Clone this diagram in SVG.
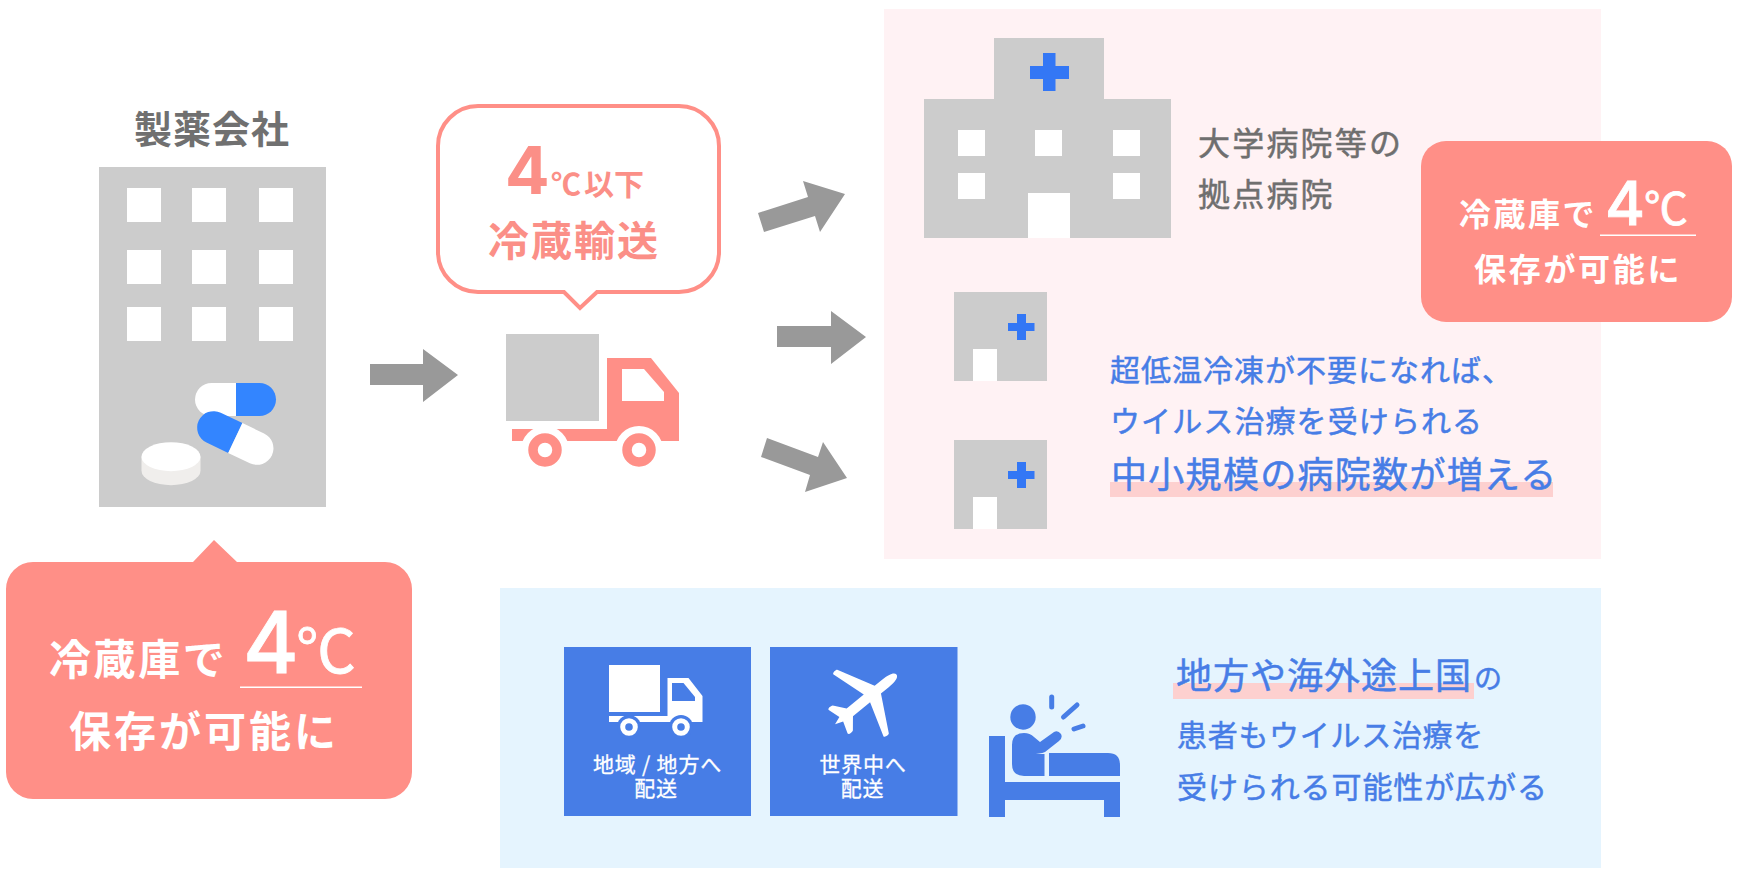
<svg xmlns="http://www.w3.org/2000/svg" width="1740" height="875" viewBox="0 0 1740 875">
<style>
text{font-family:"Noto Sans CJK JP","Noto Sans",sans-serif}
.g{fill:#ccc}.w{fill:#fff}.c{fill:#ff8f87}.b{fill:#477de6}.x{fill:#3377f5}.a{fill:#999}.h{fill:#fdd0cf}
.tw{fill:#fff;font-weight:700}.tg{fill:#6f6f6f;stroke:#6f6f6f;stroke-width:.5}.tb{fill:#477de6;stroke:#477de6;stroke-width:.5}.tc{fill:#fb8f87;font-weight:700}
.ts{fill:#fff;stroke:#fff;stroke-width:.3;font-size:21px;letter-spacing:.8px}
.big{fill:#fff;stroke:#fff;stroke-width:.8}
.num{font-family:Inter,"Noto Sans",sans-serif}
.mid{text-anchor:middle}
</style>
<defs>
<g id="smallHospital"><rect class="g" x="954" width="93" height="89"/><rect class="w" x="973" y="57" width="24" height="32"/><rect class="x" x="1017" y="22" width="9" height="26"/><rect class="x" x="1008" y="31" width="26.500" height="8"/></g>
</defs>
<rect width="1740" height="875" fill="#fff"/>
<rect id="panel-hospitals" x="884" y="9" width="717" height="550" fill="#fff2f4"/>
<rect id="panel-regional" x="500" y="588" width="1101" height="280" fill="#e5f4fe"/>

<g id="company">
<text x="212" y="143" class="mid" font-size="38" letter-spacing="1" font-weight="700" fill="#707070">製薬会社</text>
<rect class="g" x="99" y="167" width="227" height="340"/>
<g class="w"><rect x="127" y="188" width="34" height="34"/><rect x="192" y="188" width="34" height="34"/><rect x="259" y="188" width="34" height="34"/><rect x="127" y="250" width="34" height="34"/><rect x="192" y="250" width="34" height="34"/><rect x="259" y="250" width="34" height="34"/><rect x="127" y="307" width="34" height="34"/><rect x="192" y="307" width="34" height="34"/><rect x="259" y="307" width="34" height="34"/></g>
<path class="w" d="M236 383H211.500a16.500 16.500 0 0 0 0 33H236Z"/>
<path fill="#3385ff" d="M236 383H259.500a16.500 16.500 0 0 1 0 33H236Z"/>
<g transform="translate(235.300 438) rotate(25.500)"><path fill="#3385ff" d="M0 -16.500H-24a16.500 16.500 0 0 0 0 33H0Z"/><path class="w" d="M0 -16.500H24a16.500 16.500 0 0 1 0 33H0Z"/></g>
<path fill="#f0eeec" d="M141.500 456.700V470.700A29.500 14.500 0 0 0 200.500 470.700V456.700Z"/>
<ellipse class="w" cx="171" cy="456.700" rx="29.500" ry="14.500"/>
</g>

<g id="callout-company">
<path class="c" d="M33 562H193L214 540L237 562H385a27 27 0 0 1 27 27V772a27 27 0 0 1 -27 27H33a27 27 0 0 1 -27 -27V589a27 27 0 0 1 27 -27Z"/>
<text x="49" y="675" class="tw" font-size="42" letter-spacing="2.600">冷蔵庫で</text>
<text class="big" y="673"><tspan class="num" x="243" font-size="85" font-weight="500">4</tspan><tspan x="296" font-size="60">℃</tspan></text>
<rect class="w" x="240" y="686.500" width="122" height="1.500"/>
<text x="69" y="747" class="tw" font-size="42" letter-spacing="3">保存が可能に</text>
</g>

<g id="bubble-transport">
<path d="M478 106H679a40 40 0 0 1 40 40V252a40 40 0 0 1 -40 40H597L580 308L564 292H478a40 40 0 0 1 -40 -40V146a40 40 0 0 1 40 -40Z" fill="#fff" stroke="#ff8f87" stroke-width="4"/>
<text y="194" class="tc"><tspan class="num" x="505" font-size="66">4</tspan><tspan x="551" y="195" font-size="30">℃</tspan><tspan x="584" y="195" font-size="30">以下</tspan></text>
<text x="488" y="256" class="tc" font-size="41" letter-spacing="2">冷蔵輸送</text>
</g>

<g id="truck">
<rect class="g" x="506" y="334" width="93" height="87"/>
<path class="c" d="M607 358H651L679 393V441H512V429H607Z"/>
<path class="w" d="M622 369H644L664 392V401H622Z"/>
<circle class="w" cx="545" cy="450" r="24"/><circle class="w" cx="639" cy="450" r="24"/>
<circle cx="545" cy="450" r="12" fill="#fff" stroke="#ff8f87" stroke-width="9.500"/>
<circle cx="639" cy="450" r="12" fill="#fff" stroke="#ff8f87" stroke-width="9.500"/>
</g>

<g id="connectors" class="a">
<polygon points="370,364 423,364 423,349 458,375 423,402 423,385 370,385"/>
<polygon points="758,213 808,197 803,181 845,194 820,232 815,216 764,232"/>
<polygon points="777,326 831,326 831,311 866,337 831,364 831,347 777,347"/>
<polygon points="767,438 818,457 823,442 847,478 805,492 810,475 761,457"/>
</g>

<g id="hospital-main">
<rect class="g" x="994" y="38" width="110" height="61"/>
<rect class="g" x="924" y="99" width="247" height="139"/>
<rect class="x" x="1043" y="53" width="12.500" height="38"/><rect class="x" x="1030" y="66" width="39" height="13"/>
<g class="w"><rect x="958" y="130" width="27" height="26"/><rect x="1035" y="130" width="27" height="26"/><rect x="1113" y="130" width="27" height="26"/><rect x="958" y="173" width="27" height="26"/><rect x="1113" y="173" width="27" height="26"/><rect x="1028" y="193" width="42" height="45"/></g>
<text x="1198" y="155" class="tg" font-size="32" letter-spacing="2.200">大学病院等の</text>
<text x="1198" y="206" class="tg" font-size="32" letter-spacing="2.200">拠点病院</text>
</g>

<g id="callout-hospital">
<rect class="c" x="1421" y="141" width="311" height="181" rx="25"/>
<text x="1459" y="226" class="tw" font-size="32" letter-spacing="2.500">冷蔵庫で</text>
<text class="big" y="225"><tspan class="num" x="1605" font-size="61" font-weight="500">4</tspan><tspan x="1644" font-size="44">℃</tspan></text>
<rect class="w" x="1600" y="234.500" width="96" height="1.500"/>
<text x="1474" y="281" class="tw" font-size="32" letter-spacing="2.700">保存が可能に</text>
</g>

<g id="hospital-small-1"><use href="#smallHospital" y="292"/></g>
<g id="hospital-small-2"><use href="#smallHospital" y="440"/></g>

<g id="text-hospitals">
<rect class="h" x="1110" y="482" width="443" height="15"/>
<text x="1110" y="381" class="tb" font-size="30" letter-spacing="1">超低温冷凍が不要になれば、</text>
<text x="1110" y="432" class="tb" font-size="30" letter-spacing="1.100">ウイルス治療を受けられる</text>
<text x="1111" y="488" class="tb" font-size="36" letter-spacing="1.300">中小規模の病院数が増える</text>
</g>

<g id="card-regional">
<rect class="b" x="564" y="647" width="187" height="169"/>
<rect class="w" x="609" y="665" width="51" height="47"/>
<path class="w" d="M667.500 678H688.500L702.500 696V722H609V716H667.500Z"/>
<path class="b" d="M672 683H683.500L695 697V701H672Z"/>
<circle class="b" cx="629" cy="727" r="12"/><circle class="b" cx="681" cy="727" r="12"/>
<circle cx="629" cy="727" r="6.300" fill="#477de6" stroke="#fff" stroke-width="5"/>
<circle cx="681" cy="727" r="6.300" fill="#477de6" stroke="#fff" stroke-width="5"/>
<text x="657.500" y="772" class="mid ts">地域 / 地方へ</text>
<text x="656" y="796" class="mid ts">配送</text>
</g>

<g id="card-world">
<rect class="b" x="770" y="647" width="187.500" height="169"/>
<path class="w" transform="translate(860.700 703.500) rotate(51)" d="M0 -46C3.500 -46 5 -40 5 -32V-22L41 -3C42 -2 42 2 40 3L5 -8V14L16 23C17 25 17 29 15 29L3 25L0 33L-3 25L-15 29C-17 29 -17 25 -16 23L-5 14V-8L-40 3C-42 2 -42 -2 -41 -3L-5 -22V-32C-5 -40 -3.500 -46 0 -46Z"/>
<text x="863" y="772" class="mid ts">世界中へ</text>
<text x="862.500" y="796" class="mid ts">配送</text>
</g>

<g id="patient">
<path class="b" d="M989 736H1005V782H1120V817H1104V800H1005V817H989Z"/>
<path class="b" d="M1049 753H1108Q1120 753 1120 765V776H1049Z"/>
<circle class="b" cx="1023" cy="717" r="12.700"/>
<path class="b" d="M1012 745Q1012 733 1024 733Q1030 733 1034 737L1040 742L1054 732Q1058 730 1061 734Q1063 738 1059 741L1045 752Q1040 754 1032 754H1044.500V776H1024Q1012 776 1012 764Z"/>
<g stroke="#477de6" stroke-width="5" stroke-linecap="round" fill="none"><path d="M1051.700 697V707"/><path d="M1077 705L1063.500 717"/><path d="M1083 726L1074 729"/></g>
</g>

<g id="text-regional">
<rect class="h" x="1173" y="683" width="301" height="16"/>
<text x="1176" y="689" class="tb" font-size="36" letter-spacing="1">地方や海外途上国<tspan font-size="28" dx="2" letter-spacing="0">の</tspan></text>
<text x="1177" y="746" class="tb" font-size="30" letter-spacing="0.700">患者もウイルス治療を</text>
<text x="1177" y="798" class="tb" font-size="30" letter-spacing="0.900">受けられる可能性が広がる</text>
</g>
</svg>
